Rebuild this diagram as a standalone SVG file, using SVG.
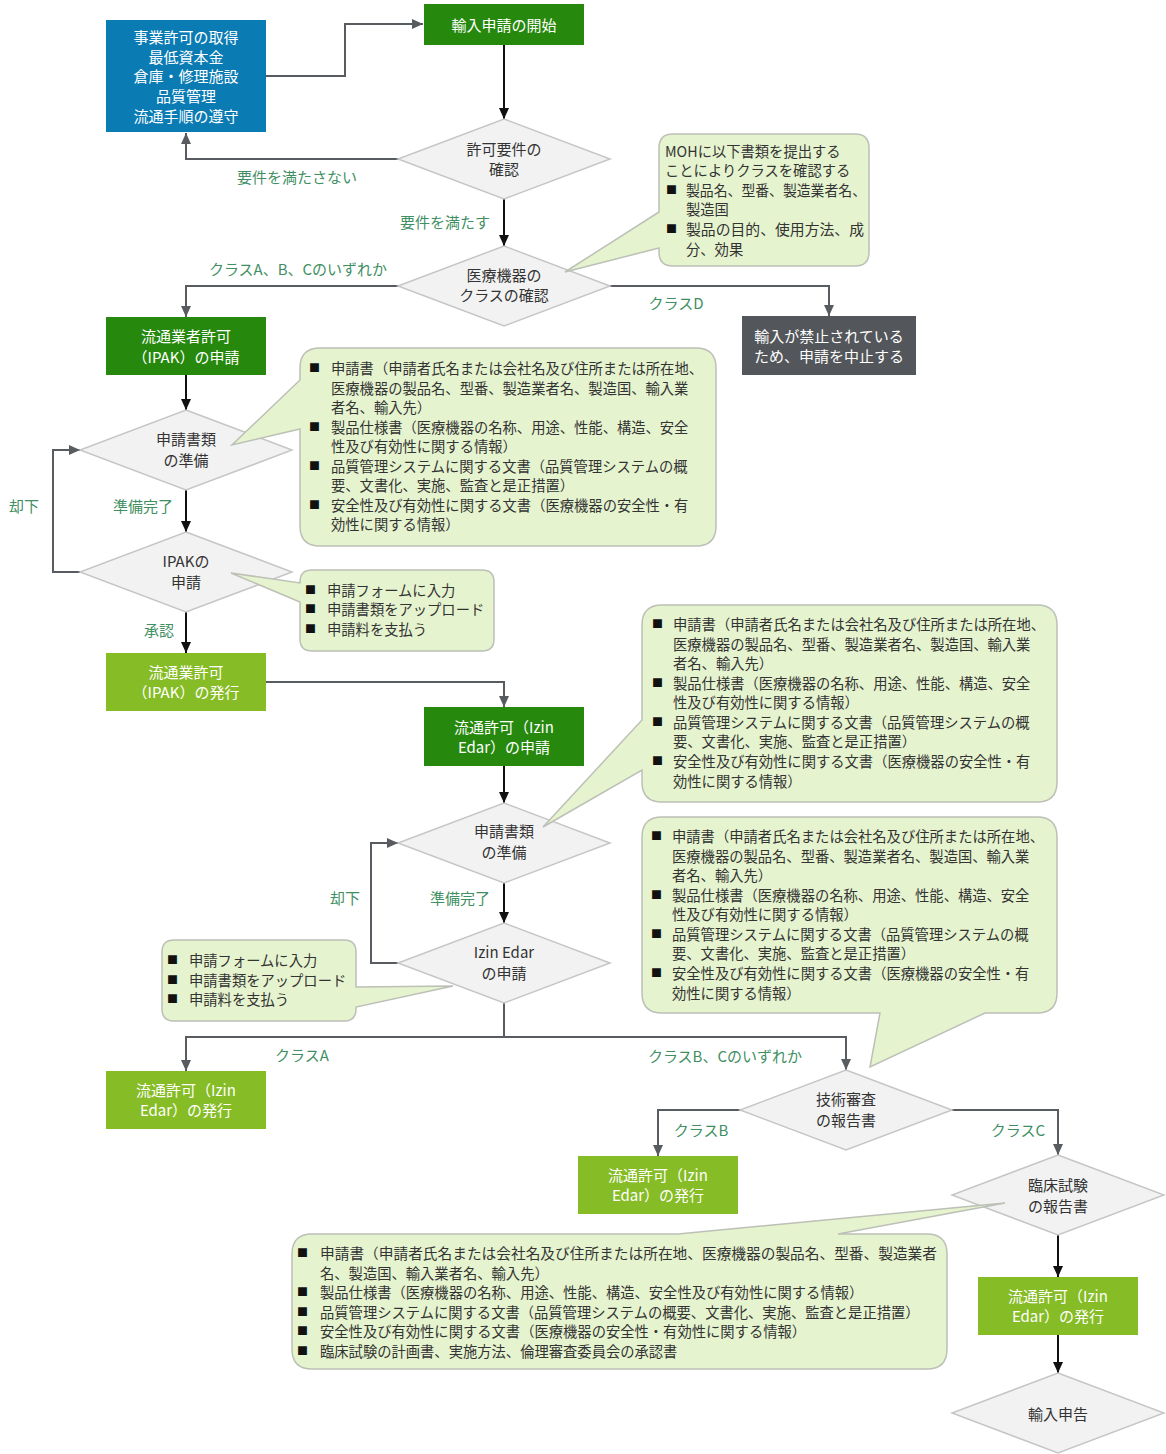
<svg xmlns="http://www.w3.org/2000/svg" width="1166" height="1454" viewBox="0 0 1166 1454">
<style>
text{font-family:"Noto Sans CJK JP","Noto Sans",sans-serif;dominant-baseline:central}
.nt{font-size:15px;fill:#ffffff;text-anchor:middle}
.dt{font-size:15px;fill:#333333;text-anchor:middle}
.lb{font-size:15px;fill:#3f8f63;text-anchor:middle}
.ct{font-size:14.3px;fill:#333333}
.bl{font-size:11px;fill:#111111}
.blue{fill:#0a7bb3}
.dg{fill:#26890d}
.lg{fill:#86bc25}
.gray{fill:#53565a}
.dia{fill:#f2f2f2;stroke:#c6c6c6;stroke-width:1.5}
.co{fill:#e6f3cf;stroke:#bcc0b6;stroke-width:1.5}
.cg{fill:none;stroke:#585c61;stroke-width:2}
.ck{fill:none;stroke:#111111;stroke-width:2}
</style>
<defs>
<marker id="ag" markerUnits="userSpaceOnUse" markerWidth="12" markerHeight="12" refX="11" refY="6" orient="auto"><path d="M0,1 L11,6 L0,11 z" fill="#585c61"/></marker>
<marker id="ak" markerUnits="userSpaceOnUse" markerWidth="12" markerHeight="12" refX="11" refY="6" orient="auto"><path d="M0,1 L11,6 L0,11 z" fill="#111111"/></marker>
</defs>
<rect width="1166" height="1454" fill="#ffffff"/>

<g id="connectors">
<path class="cg" d="M266,76 H345 V24 H423" marker-end="url(#ag)"/>
<path class="ck" d="M504,45 V119" marker-end="url(#ak)"/>
<path class="cg" d="M400,159 H186 V133" marker-end="url(#ag)"/>
<path class="ck" d="M504,199 V246" marker-end="url(#ak)"/>
<path class="cg" d="M400,286 H186 V317" marker-end="url(#ag)"/>
<path class="cg" d="M610,286 H829 V316" marker-end="url(#ag)"/>
<path class="ck" d="M186,375 V410" marker-end="url(#ak)"/>
<path class="ck" d="M186,490 V532" marker-end="url(#ak)"/>
<path class="cg" d="M80,572 H53 V450 H80" marker-end="url(#ag)"/>
<path class="ck" d="M186,612 V653" marker-end="url(#ak)"/>
<path class="cg" d="M266,682 H504 V707" marker-end="url(#ag)"/>
<path class="ck" d="M504,766 V803" marker-end="url(#ak)"/>
<path class="ck" d="M504,883 V923" marker-end="url(#ak)"/>
<path class="cg" d="M398,963 H371 V843 H398" marker-end="url(#ag)"/>
<path class="cg" d="M504,1003 V1037 H186 V1071" marker-end="url(#ag)"/>
<path class="cg" d="M504,1037 H846 V1070" marker-end="url(#ag)"/>
<path class="cg" d="M740,1110 H658 V1156" marker-end="url(#ag)"/>
<path class="cg" d="M952,1110 H1058 V1155" marker-end="url(#ag)"/>
<path class="ck" d="M1058,1235 V1277" marker-end="url(#ak)"/>
<path class="ck" d="M1058,1335 V1373" marker-end="url(#ak)"/>
<text class="lb" x="297" y="176">要件を満たさない</text>
<text class="lb" x="445" y="221">要件を満たす</text>
<text class="lb" x="298" y="268">クラスA、B、Cのいずれか</text>
<text class="lb" x="676" y="302">クラスD</text>
<text class="lb" x="143" y="505">準備完了</text>
<text class="lb" x="24" y="505">却下</text>
<text class="lb" x="159" y="629">承認</text>
<text class="lb" x="460" y="897">準備完了</text>
<text class="lb" x="345" y="897">却下</text>
<text class="lb" x="302" y="1054">クラスA</text>
<text class="lb" x="725" y="1055">クラスB、Cのいずれか</text>
<text class="lb" x="701" y="1129">クラスB</text>
<text class="lb" x="1018" y="1129">クラスC</text>
</g>

<g id="n-requirements">
<rect class="blue" x="106" y="20" width="160" height="112"/>
<text class="nt" x="186" y="36">事業許可の取得</text>
<text class="nt" x="186" y="56">最低資本金</text>
<text class="nt" x="186" y="75">倉庫・修理施設</text>
<text class="nt" x="186" y="95">品質管理</text>
<text class="nt" x="186" y="115">流通手順の遵守</text>
</g>
<g id="n-start">
<rect class="dg" x="424" y="4" width="160" height="41"/>
<text class="nt" x="504" y="24">輸入申請の開始</text>
</g>
<g id="n-check-permit">
<polygon class="dia" points="504,119 610,159 504,199 398,159"/>
<text class="dt" x="504" y="148">許可要件の</text>
<text class="dt" x="504" y="168">確認</text>
</g>
<g id="n-check-class">
<polygon class="dia" points="504,246 610,286 504,326 398,286"/>
<text class="dt" x="504" y="274">医療機器の</text>
<text class="dt" x="504" y="294">クラスの確認</text>
</g>
<g id="n-prohibited">
<rect class="gray" x="742" y="316" width="174" height="59"/>
<text class="nt" x="829" y="335">輸入が禁止されている</text>
<text class="nt" x="829" y="355">ため、申請を中止する</text>
</g>
<g id="n-ipak-apply">
<rect class="dg" x="106" y="317" width="160" height="58"/>
<text class="nt" x="186" y="335">流通業者許可</text>
<text class="nt" x="186" y="356">（IPAK）の申請</text>
</g>
<g id="n-ipak-docs">
<polygon class="dia" points="186,410 292,450 186,490 80,450"/>
<text class="dt" x="186" y="438">申請書類</text>
<text class="dt" x="186" y="459">の準備</text>
</g>
<g id="n-ipak-submit">
<polygon class="dia" points="186,532 292,572 186,612 80,572"/>
<text class="dt" x="186" y="560">IPAKの</text>
<text class="dt" x="186" y="581">申請</text>
</g>
<g id="n-ipak-issue">
<rect class="lg" x="106" y="653" width="160" height="58"/>
<text class="nt" x="186" y="671">流通業許可</text>
<text class="nt" x="186" y="691">（IPAK）の発行</text>
</g>
<g id="n-izin-apply">
<rect class="dg" x="424" y="707" width="160" height="59"/>
<text class="nt" x="504" y="726">流通許可（Izin</text>
<text class="nt" x="504" y="746">Edar）の申請</text>
</g>
<g id="n-izin-docs">
<polygon class="dia" points="504,803 610,843 504,883 398,843"/>
<text class="dt" x="504" y="830">申請書類</text>
<text class="dt" x="504" y="851">の準備</text>
</g>
<g id="n-izin-submit">
<polygon class="dia" points="504,923 610,963 504,1003 398,963"/>
<text class="dt" x="504" y="951">Izin Edar</text>
<text class="dt" x="504" y="972">の申請</text>
</g>
<g id="n-izin-issue-a">
<rect class="lg" x="106" y="1071" width="160" height="58"/>
<text class="nt" x="186" y="1089">流通許可（Izin</text>
<text class="nt" x="186" y="1109">Edar）の発行</text>
</g>
<g id="n-tech-review">
<polygon class="dia" points="846,1070 952,1110 846,1150 740,1110"/>
<text class="dt" x="846" y="1098">技術審査</text>
<text class="dt" x="846" y="1119">の報告書</text>
</g>
<g id="n-izin-issue-b">
<rect class="lg" x="578" y="1156" width="160" height="58"/>
<text class="nt" x="658" y="1174">流通許可（Izin</text>
<text class="nt" x="658" y="1194">Edar）の発行</text>
</g>
<g id="n-clinical">
<polygon class="dia" points="1058,1155 1164,1195 1058,1235 952,1195"/>
<text class="dt" x="1058" y="1184">臨床試験</text>
<text class="dt" x="1058" y="1205">の報告書</text>
</g>
<g id="n-izin-issue-c">
<rect class="lg" x="978" y="1277" width="160" height="58"/>
<text class="nt" x="1058" y="1295">流通許可（Izin</text>
<text class="nt" x="1058" y="1315">Edar）の発行</text>
</g>
<g id="n-import-declaration">
<polygon class="dia" points="1058,1373 1164,1413 1058,1453 952,1413"/>
<text class="dt" x="1058" y="1413">輸入申告</text>
</g>

<g id="c-moh">
<path class="co" d="M673,134 H855 Q869,134 869,148 V252 Q869,266 855,266 H673 Q659,266 659,252 V248 L565,272 L659,212 V148 Q659,134 673,134 Z"/>
<text class="ct" x="665" y="150">MOHに以下書類を提出する</text>
<text class="ct" x="665" y="169">ことによりクラスを確認する</text>
<text class="bl" x="666" y="189">■</text>
<text class="ct" x="686" y="189" textLength="180" lengthAdjust="spacingAndGlyphs">製品名、型番、製造業者名、</text>
<text class="ct" x="686" y="208">製造国</text>
<text class="bl" x="666" y="228">■</text>
<text class="ct" x="686" y="228" textLength="178" lengthAdjust="spacingAndGlyphs">製品の目的、使用方法、成</text>
<text class="ct" x="686" y="248">分、効果</text>
</g>

<g id="c-ipak-docs">
<path class="co" d="M320,348 H696 Q716,348 716,368 V526 Q716,546 696,546 H320 Q300,546 300,526 V429 L232,445 L300,380 V368 Q300,348 320,348 Z"/>
<text class="bl" x="309" y="367">■</text>
<text class="ct" x="331" y="367" textLength="372" lengthAdjust="spacingAndGlyphs">申請書（申請者氏名または会社名及び住所または所在地、</text>
<text class="ct" x="331" y="387">医療機器の製品名、型番、製造業者名、製造国、輸入業</text>
<text class="ct" x="331" y="406">者名、輸入先）</text>
<text class="bl" x="309" y="426">■</text>
<text class="ct" x="331" y="426">製品仕様書（医療機器の名称、用途、性能、構造、安全</text>
<text class="ct" x="331" y="445">性及び有効性に関する情報）</text>
<text class="bl" x="309" y="465">■</text>
<text class="ct" x="331" y="465">品質管理システムに関する文書（品質管理システムの概</text>
<text class="ct" x="331" y="484">要、文書化、実施、監査と是正措置）</text>
<text class="bl" x="309" y="504">■</text>
<text class="ct" x="331" y="504">安全性及び有効性に関する文書（医療機器の安全性・有</text>
<text class="ct" x="331" y="523">効性に関する情報）</text>
</g>

<g id="c-ipak-steps">
<path class="co" d="M312,570 H482 Q494,570 494,582 V639 Q494,651 482,651 H312 Q300,651 300,639 V602 L231,573 L300,583 V582 Q300,570 312,570 Z"/>
<text class="bl" x="305" y="589">■</text>
<text class="ct" x="327" y="589">申請フォームに入力</text>
<text class="bl" x="305" y="608">■</text>
<text class="ct" x="327" y="608">申請書類をアップロード</text>
<text class="bl" x="305" y="628">■</text>
<text class="ct" x="327" y="628">申請料を支払う</text>
</g>

<g id="c-izin-docs">
<path class="co" d="M662,605 H1037 Q1057,605 1057,625 V782 Q1057,802 1037,802 H662 Q642,802 642,782 V770 L543,827 L642,720 V625 Q642,605 662,605 Z"/>
<text class="bl" x="652" y="623">■</text>
<text class="ct" x="673" y="623" textLength="372" lengthAdjust="spacingAndGlyphs">申請書（申請者氏名または会社名及び住所または所在地、</text>
<text class="ct" x="673" y="643">医療機器の製品名、型番、製造業者名、製造国、輸入業</text>
<text class="ct" x="673" y="662">者名、輸入先）</text>
<text class="bl" x="652" y="682">■</text>
<text class="ct" x="673" y="682">製品仕様書（医療機器の名称、用途、性能、構造、安全</text>
<text class="ct" x="673" y="701">性及び有効性に関する情報）</text>
<text class="bl" x="652" y="721">■</text>
<text class="ct" x="673" y="721">品質管理システムに関する文書（品質管理システムの概</text>
<text class="ct" x="673" y="740">要、文書化、実施、監査と是正措置）</text>
<text class="bl" x="652" y="760">■</text>
<text class="ct" x="673" y="760">安全性及び有効性に関する文書（医療機器の安全性・有</text>
<text class="ct" x="673" y="780">効性に関する情報）</text>
</g>

<g id="c-tech-docs">
<path class="co" d="M662,817 H1037 Q1057,817 1057,837 V993 Q1057,1013 1037,1013 H985 L870,1067 L880,1013 H662 Q642,1013 642,993 V837 Q642,817 662,817 Z"/>
<text class="bl" x="651" y="835">■</text>
<text class="ct" x="672" y="835" textLength="372" lengthAdjust="spacingAndGlyphs">申請書（申請者氏名または会社名及び住所または所在地、</text>
<text class="ct" x="672" y="855">医療機器の製品名、型番、製造業者名、製造国、輸入業</text>
<text class="ct" x="672" y="874">者名、輸入先）</text>
<text class="bl" x="651" y="894">■</text>
<text class="ct" x="672" y="894">製品仕様書（医療機器の名称、用途、性能、構造、安全</text>
<text class="ct" x="672" y="913">性及び有効性に関する情報）</text>
<text class="bl" x="651" y="933">■</text>
<text class="ct" x="672" y="933">品質管理システムに関する文書（品質管理システムの概</text>
<text class="ct" x="672" y="952">要、文書化、実施、監査と是正措置）</text>
<text class="bl" x="651" y="972">■</text>
<text class="ct" x="672" y="972">安全性及び有効性に関する文書（医療機器の安全性・有</text>
<text class="ct" x="672" y="992">効性に関する情報）</text>
</g>

<g id="c-izin-steps">
<path class="co" d="M174,940 H344 Q356,940 356,952 V987 L453,986 L356,1007 V1009 Q356,1021 344,1021 H174 Q162,1021 162,1009 V952 Q162,940 174,940 Z"/>
<text class="bl" x="167" y="959">■</text>
<text class="ct" x="189" y="959">申請フォームに入力</text>
<text class="bl" x="167" y="979">■</text>
<text class="ct" x="189" y="979">申請書類をアップロード</text>
<text class="bl" x="167" y="998">■</text>
<text class="ct" x="189" y="998">申請料を支払う</text>
</g>

<g id="c-clinical-docs">
<path class="co" d="M312,1234 H678 L1005,1203 L838,1234 H927 Q947,1234 947,1254 V1349 Q947,1369 927,1369 H312 Q292,1369 292,1349 V1254 Q292,1234 312,1234 Z"/>
<text class="bl" x="297" y="1252">■</text>
<text class="ct" x="320" y="1252" textLength="617" lengthAdjust="spacingAndGlyphs">申請書（申請者氏名または会社名及び住所または所在地、医療機器の製品名、型番、製造業者</text>
<text class="ct" x="320" y="1272">名、製造国、輸入業者名、輸入先）</text>
<text class="bl" x="297" y="1291">■</text>
<text class="ct" x="320" y="1291">製品仕様書（医療機器の名称、用途、性能、構造、安全性及び有効性に関する情報）</text>
<text class="bl" x="297" y="1311">■</text>
<text class="ct" x="320" y="1311">品質管理システムに関する文書（品質管理システムの概要、文書化、実施、監査と是正措置）</text>
<text class="bl" x="297" y="1330">■</text>
<text class="ct" x="320" y="1330">安全性及び有効性に関する文書（医療機器の安全性・有効性に関する情報）</text>
<text class="bl" x="297" y="1350">■</text>
<text class="ct" x="320" y="1350">臨床試験の計画書、実施方法、倫理審査委員会の承認書</text>
</g>
</svg>
